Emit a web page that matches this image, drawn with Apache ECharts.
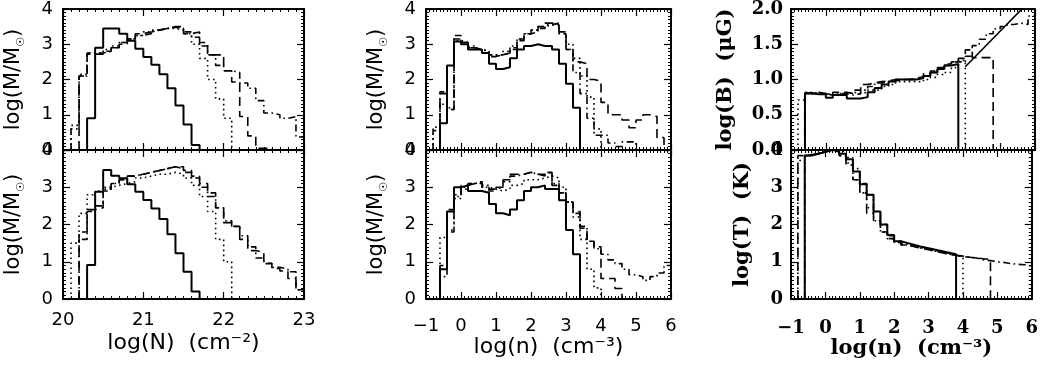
<!DOCTYPE html>
<html>
<head>
<meta charset="utf-8">
<script src="https://cdn.jsdelivr.net/npm/echarts@6/dist/echarts.min.js"></script>
<style>
  html, body { margin: 0; padding: 0; background: #fff; }
  #chart { width: 1041px; height: 366px; }
</style>
</head>
<body>
<div id="chart"></div>
<script>
// 列密度直方图 (bin 0.1 dex)
const nBin = 0.1;
const nTopSolidStart = 20.3, nTopSolid = [0.9, 2.9, 3.45, 3.45, 3.3, 3.1, 2.87, 2.64, 2.42, 2.15, 1.75, 1.26, 0.72, 0.14];
const nTopDotStart = 20.1, nTopDot = [0.7, 2.15, 2.75, 2.75, 2.85, 2.95, 3.05, 3.15, 3.25, 3.35, 3.4, 3.45, 3.45, 3.4, 3.3, 3.0, 2.6, 2.0, 1.45, 0.9];
const nTopDashStart = 20.2, nTopDash = [2.1, 2.72, 2.72, 2.8, 2.9, 3.0, 3.15, 3.3, 3.35, 3.4, 3.45, 3.5, 3.5, 3.3, 3.35, 3.05, 2.7, 2.7, 2.25, 1.93, 0.95, 0.4, 0.05, 0.05];
const nTopDdStart = 20.1, nTopDd = [0.6, 2.1, 2.75, 2.75, 2.8, 2.9, 3.05, 3.15, 3.25, 3.3, 3.4, 3.45, 3.48, 3.45, 3.35, 3.2, 2.95, 2.7, 2.4, 2.25, 2.2, 1.9, 1.75, 1.4, 1.05, 1.0, 0.9, 0.95, 0.37];

const nBotSolidStart = 20.3, nBotSolid = [0.91, 2.88, 3.46, 3.31, 3.24, 3.08, 2.88, 2.66, 2.43, 2.15, 1.74, 1.23, 0.73, 0.2];
const nBotDotStart = 20.1, nBotDot = [1.5, 2.3, 2.8, 2.9, 3.0, 3.05, 3.1, 3.15, 3.25, 3.3, 3.35, 3.35, 3.4, 3.35, 3.25, 3.05, 2.75, 2.35, 1.6, 1.0];
const nBotDashStart = 20.2, nBotDash = [1.8, 2.4, 2.45, 2.9, 3.1, 3.2, 3.3, 3.35, 3.4, 3.45, 3.5, 3.55, 3.55, 3.45, 3.3, 3.1, 2.85, 2.45, 2.05, 1.95, 1.6, 1.3, 1.25, 0.96, 0.82, 0.75, 0.55, 0.25];
const nBotDdStart = 20.2, nBotDd = [1.6, 2.35, 2.5, 2.95, 3.1, 3.2, 3.3, 3.35, 3.4, 3.45, 3.5, 3.55, 3.5, 3.4, 3.25, 3.0, 2.75, 2.45, 2.1, 1.95, 1.7, 1.4, 1.1, 0.95, 0.85, 0.8, 0.73, 0.25];

// 体密度直方图 (bin 0.2 dex)
const dBin = 0.2;
const dTopSolidStart = -0.6, dTopSolid = [0.76, 2.4, 3.08, 3.0, 2.85, 2.85, 2.75, 2.45, 2.3, 2.35, 2.6, 2.85, 2.95, 3.0, 2.95, 2.95, 2.85, 2.45, 1.88, 1.2];
const dTopDotStart = -0.8, dTopDot = [0.65, 1.3, 1.2, 3.1, 3.05, 2.95, 2.85, 2.8, 2.7, 2.7, 2.8, 2.95, 3.15, 3.3, 3.4, 3.5, 3.55, 3.55, 3.3, 3.0, 2.6, 2.1, 1.5, 0.6];
const dTopDashStart = -0.6, dTopDash = [1.6, 1.15, 3.15, 3.05, 2.9, 2.85, 2.75, 2.65, 2.7, 2.75, 2.9, 3.15, 3.3, 3.4, 3.5, 3.6, 3.55, 3.3, 2.85, 2.5, 2.45, 2.0, 1.95, 1.35, 1.0, 1.0, 0.85, 0.63, 0.85, 1.0, 0.95, 0.35];
const dTopDdStart = -0.8, dTopDd = [0.55, 1.65, 1.15, 3.25, 3.05, 2.9, 2.85, 2.8, 2.7, 2.7, 2.75, 2.85, 3.1, 3.3, 3.35, 3.45, 3.55, 3.6, 3.35, 2.85, 2.2, 1.6, 0.9, 0.42, 0.42, 0.2, 0.1, 0.23, 0.23];

const dBotSolidStart = -0.6, dBotSolid = [0.8, 2.35, 3.0, 3.05, 2.9, 2.9, 2.85, 2.55, 2.3, 2.25, 2.4, 2.65, 2.9, 3.0, 3.05, 2.95, 2.95, 2.65, 1.85, 1.2];
const dBotDotStart = -0.6, dBotDot = [1.65, 1.85, 2.7, 2.95, 3.1, 3.1, 3.0, 2.95, 2.9, 2.95, 3.05, 3.1, 3.2, 3.2, 3.25, 3.3, 3.25, 3.0, 2.6, 2.2, 1.6, 0.8, 0.3];
const dBotDashStart = -0.6, dBotDash = [0.9, 2.4, 2.8, 3.05, 3.1, 3.15, 3.0, 2.9, 3.0, 3.2, 3.35, 3.35, 3.4, 3.35, 3.3, 3.4, 3.05, 2.85, 2.6, 2.35, 1.9, 1.55, 1.4, 0.55, 0.55, 0.28];
const dBotDdStart = -0.6, dBotDd = [0.6, 1.8, 2.75, 3.0, 3.1, 3.15, 3.05, 2.95, 3.0, 3.15, 3.3, 3.35, 3.4, 3.35, 3.35, 3.4, 3.1, 2.85, 2.6, 2.3, 1.95, 1.55, 1.35, 1.2, 1.05, 0.95, 0.8, 0.65, 0.6, 0.5, 0.6, 0.7, 0.9];

// 磁场 log(B)
const bSolidStart = -0.6, bSolid = [0.81, 0.79, 0.79, 0.74, 0.78, 0.78, 0.73, 0.73, 0.75, 0.82, 0.88, 0.93, 0.97, 1.0, 1.0, 1.0, 1.02, 1.05, 1.1, 1.15, 1.2, 1.22];
const bDotStart = -0.8, bDot = [0.71, 0.82, 0.8, 0.8, 0.78, 0.8, 0.8, 0.82, 0.8, 0.82, 0.85, 0.85, 0.9, 0.93, 0.97, 0.97, 0.97, 0.97, 1.0, 1.03, 1.07, 1.1, 1.17, 1.27];
const bDashStart = -0.6, bDash = [0.8, 0.82, 0.8, 0.79, 0.82, 0.82, 0.8, 0.85, 0.93, 0.95, 0.97, 0.98, 1.0, 1.0, 1.0, 1.02, 1.04, 1.08, 1.12, 1.17, 1.22, 1.25, 1.3, 1.42, 1.31, 1.31, 1.31];
const bDdStart = -0.6, bDd = [0.8, 0.8, 0.8, 0.78, 0.8, 0.8, 0.78, 0.8, 0.85, 0.9, 0.95, 0.97, 0.98, 1.0, 1.0, 1.0, 1.02, 1.05, 1.1, 1.15, 1.2, 1.25, 1.25, 1.33, 1.48, 1.57, 1.65, 1.72, 1.75, 1.78, 1.8, 1.78, 1.9];
const bFitX = [4.0, 6.0], bFitY = [1.18, 2.19];

// 温度 log(T)
const tSolidStart = -0.6, tSolid = [3.85, 3.9, 3.95, 4.0, 4.0, 3.9, 3.75, 3.42, 3.08, 2.8, 2.35, 2.0, 1.72, 1.55, 1.5, 1.45, 1.4, 1.36, 1.32, 1.28, 1.24, 1.2];
const tDotStart = -0.8, tDot = [3.72, 3.85, 3.9, 3.95, 4.0, 3.95, 3.85, 3.65, 3.2, 2.85, 2.45, 2.1, 1.8, 1.62, 1.52, 1.45, 1.4, 1.36, 1.32, 1.28, 1.24, 1.2, 1.17, 1.14];
const tDashStart = -0.8, tDash = [3.85, 3.88, 3.9, 3.95, 4.0, 3.95, 3.85, 3.6, 3.2, 2.85, 2.3, 2.1, 1.8, 1.62, 1.52, 1.45, 1.4, 1.36, 1.32, 1.28, 1.24, 1.2, 1.17, 1.14, 1.12, 1.1, 1.08, 1.06];
const tDdStart = -0.6, tDd = [3.85, 3.9, 3.95, 4.0, 4.0, 3.95, 3.8, 3.5, 3.1, 2.8, 2.35, 2.0, 1.7, 1.55, 1.48, 1.43, 1.38, 1.34, 1.3, 1.26, 1.22, 1.18, 1.15, 1.12, 1.1, 1.05, 1.03, 1.0, 0.98, 0.95, 0.93, 0.92, 0.88];

const SANS = "DejaVu Sans";
const SERIF = "DejaVu Serif";

// 直方图阶梯点
function steps(start, width, vals) {
  const pts = [[start, 0]];
  vals.forEach((v, i) => pts.push([+(start + i * width).toFixed(3), v]));
  const end = +(start + vals.length * width).toFixed(3);
  pts.push([end, vals[vals.length - 1]], [end, 0]);
  return pts;
}

const STYLES = {
  solid: { width: 2, type: "solid" },
  dot: { width: 1.6, type: [1.6, 3.4] },
  dash: { width: 1.6, type: [9, 5] },
  dd: { width: 1.6, type: [7, 3.5, 1.6, 3.5] },
};

function histSeries(g, start, width, vals, kind) {
  return {
    type: "line",
    xAxisIndex: 2 * g,
    yAxisIndex: 2 * g,
    step: "end",
    symbol: "none",
    silent: true,
    lineStyle: { color: "#000", ...STYLES[kind] },
    data: steps(start, width, vals),
  };
}

const grids = [
  { left: 61, top: 2, width: 243, height: 148 },
  { left: 426, top: 2, width: 245, height: 148 },
  { left: 791, top: 2, width: 244, height: 148 },
  { left: 61, top: 150, width: 243, height: 149 },
  { left: 426, top: 150, width: 245, height: 149 },
  { left: 791, top: 150, width: 244, height: 149 },
];

const minus = (v) => String(v).replace("-", "\u2212");

function axisBase(min, max, interval) {
  return {
    type: "value", min, max, interval,
    axisLine: { show: true, onZero: false, lineStyle: { color: "#000", width: 2 } },
    axisTick: { show: true, inside: true, length: 7, lineStyle: { color: "#000", width: 1.2 } },
    minorTick: { show: true, splitNumber: 10, length: 3, lineStyle: { color: "#000", width: 1 } },
    splitLine: { show: false },
    minorSplitLine: { show: false },
  };
}

const xAxes = [], yAxes = [];
const cols = [
  { min: 20, max: 23, font: SANS, weight: "normal", margin: 12, name: "log(N)  (cm\u207B\u00B2)", gap: 33 },
  { min: -1, max: 6, font: SANS, weight: "normal", margin: 18, name: "log(n)  (cm\u207B\u00B3)", gap: 33 },
  { min: -1, max: 6, font: SERIF, weight: "bold", margin: 20, name: "log(n)  (cm\u207B\u00B3)", gap: 37 },
];
const rows = [
  // 每个面板的 y 轴
  [
    { min: 0, max: 4, interval: 1 },
    { min: 0, max: 4, interval: 1 },
    { min: 0, max: 2, interval: 0.5, fmt: (v) => v.toFixed(1), name: "log(B)  (\u03BCG)", gap: 55 },
  ],
  [
    { min: 0, max: 4, interval: 1 },
    { min: 0, max: 4, interval: 1 },
    { min: 0, max: 4, interval: 1, name: "log(T)  (K)", gap: 38 },
  ],
];

for (let r = 0; r < 2; r++) {
  for (let c = 0; c < 3; c++) {
    const g = r * 3 + c;
    const col = cols[c];
    const yc = rows[r][c];
    const labelFont = { color: "#000", fontFamily: col.font, fontWeight: col.weight, fontSize: 18 };

    const xb = axisBase(col.min, col.max, 1);
    xAxes.push({
      ...xb, gridIndex: g, position: "bottom",
      axisLabel: {
        show: r === 1, ...labelFont, margin: col.margin, formatter: minus,
        showMinLabel: true, showMaxLabel: true,
      },
      name: r === 1 ? col.name : "",
      nameLocation: "middle",
      nameGap: col.gap,
      nameTextStyle: { color: "#000", fontFamily: col.font, fontWeight: col.weight, fontSize: c === 2 ? 21 : 22 },
    });
    xAxes.push({ ...axisBase(col.min, col.max, 1), gridIndex: g, position: "top", axisLabel: { show: false } });

    const yb = axisBase(yc.min, yc.max, yc.interval);
    let yName, yNameStyle;
    if (c < 2) {
      yName = "log(M/M{s|\u2609})";
      yNameStyle = {
        color: "#000", fontFamily: SANS, fontSize: 21, lineHeight: 26,
        rich: { s: { fontFamily: SANS, fontSize: 11, verticalAlign: "bottom", lineHeight: 26, padding: [8, 0, 0, 0] } },
      };
    } else {
      yName = yc.name;
      yNameStyle = { color: "#000", fontFamily: SERIF, fontWeight: "bold", fontSize: 21 };
    }
    yAxes.push({
      ...yb, gridIndex: g, position: "left",
      axisLabel: {
        ...labelFont, margin: c === 2 ? 8 : 10, padding: [0, 0, 8, 0],
        formatter: yc.fmt || minus, showMinLabel: true, showMaxLabel: true,
      },
      name: yName,
      nameLocation: "middle",
      nameGap: c < 2 ? 36 : yc.gap,
      nameRotate: 90,
      nameTextStyle: yNameStyle,
    });
    yAxes.push({ ...axisBase(yc.min, yc.max, yc.interval), gridIndex: g, position: "right", axisLabel: { show: false } });
  }
}

const series = [
  histSeries(0, nTopDdStart, nBin, nTopDd, "dd"),
  histSeries(0, nTopDashStart, nBin, nTopDash, "dash"),
  histSeries(0, nTopDotStart, nBin, nTopDot, "dot"),
  histSeries(0, nTopSolidStart, nBin, nTopSolid, "solid"),

  histSeries(3, nBotDdStart, nBin, nBotDd, "dd"),
  histSeries(3, nBotDashStart, nBin, nBotDash, "dash"),
  histSeries(3, nBotDotStart, nBin, nBotDot, "dot"),
  histSeries(3, nBotSolidStart, nBin, nBotSolid, "solid"),

  histSeries(1, dTopDdStart, dBin, dTopDd, "dd"),
  histSeries(1, dTopDashStart, dBin, dTopDash, "dash"),
  histSeries(1, dTopDotStart, dBin, dTopDot, "dot"),
  histSeries(1, dTopSolidStart, dBin, dTopSolid, "solid"),

  histSeries(4, dBotDdStart, dBin, dBotDd, "dd"),
  histSeries(4, dBotDashStart, dBin, dBotDash, "dash"),
  histSeries(4, dBotDotStart, dBin, dBotDot, "dot"),
  histSeries(4, dBotSolidStart, dBin, dBotSolid, "solid"),

  histSeries(2, bDdStart, dBin, bDd, "dd"),
  histSeries(2, bDashStart, dBin, bDash, "dash"),
  histSeries(2, bDotStart, dBin, bDot, "dot"),
  histSeries(2, bSolidStart, dBin, bSolid, "solid"),
  {
    type: "line", xAxisIndex: 4, yAxisIndex: 4, symbol: "none", silent: true,
    lineStyle: { color: "#000", width: 1.6 },
    data: bFitX.map((x, i) => [x, bFitY[i]]),
  },

  histSeries(5, tDdStart, dBin, tDd, "dd"),
  histSeries(5, tDashStart, dBin, tDash, "dash"),
  histSeries(5, tDotStart, dBin, tDot, "dot"),
  histSeries(5, tSolidStart, dBin, tSolid, "solid"),
];

const chart = echarts.init(document.getElementById("chart"), null, { renderer: "canvas" });
chart.setOption({
  backgroundColor: "#fff",
  animation: false,
  grid: grids,
  xAxis: xAxes,
  yAxis: yAxes,
  series,
});
</script>
</body>
</html>
